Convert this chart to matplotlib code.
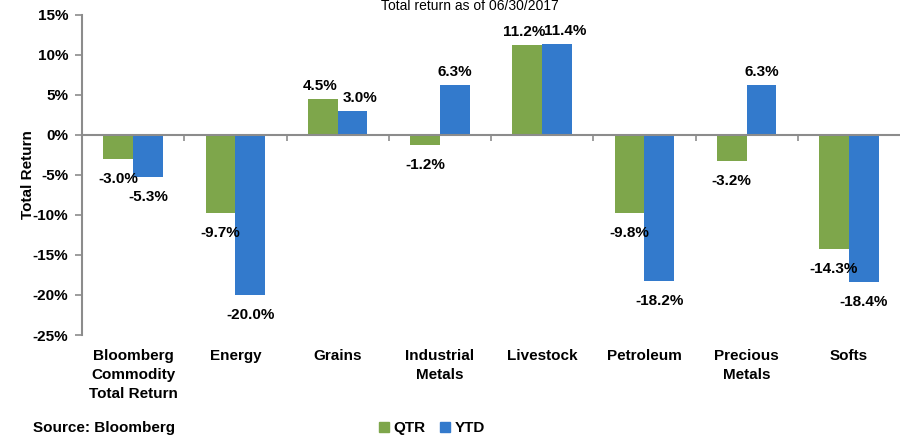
import matplotlib
matplotlib.use("Agg")
import matplotlib.pyplot as plt
from matplotlib.patches import Patch
import numpy as np

categories = ["Bloomberg\nCommodity\nTotal Return", "Energy", "Grains", "Industrial\nMetals",
              "Livestock", "Petroleum", "Precious\nMetals", "Softs"]
qtr = [-3.0, -9.7, 4.5, -1.2, 11.2, -9.8, -3.2, -14.3]
ytd = [-5.3, -20.0, 3.0, 6.3, 11.4, -18.2, 6.3, -18.4]
yticks = [15, 10, 5, 0, -5, -10, -15, -20, -25]

GREEN = "#7EA64B"
BLUE = "#337ACC"
GRAY = "#8C8C8C"
FONT = ["Liberation Sans", "DejaVu Sans"]
plt.rcParams["font.family"] = FONT
plt.rcParams["font.weight"] = "bold"
plt.rcParams["font.size"] = 11

fig = plt.figure(figsize=(9, 4.4), dpi=100)
ax = fig.add_axes([82 / 900, 1 - 335 / 440, 1 - 82 / 900, (335 - 15) / 440])

x = np.arange(len(categories))
w = 0.29
b1 = ax.bar(x - w / 2, qtr, w, color=GREEN, zorder=2)
b2 = ax.bar(x + w / 2, ytd, w, color=BLUE, zorder=2)

for k, (bars, vals) in enumerate(((b1, qtr), (b2, ytd))):
    other = ytd if k == 0 else qtr
    for r, v, o in zip(bars, vals, other):
        cx = r.get_x() + r.get_width() / 2
        dy = -20 if v < 0 else 13
        dx = 0
        if v > 0 and o > 0:
            dx = -3 if k == 0 else 8
        ax.annotate(f"{v:.1f}%", (cx, v), xytext=(dx, dy), textcoords="offset pixels",
                    ha="center", va="center", fontsize=11, fontweight="bold", color="black")

ax.set_xlim(-0.5, len(categories) - 0.5)
ax.set_ylim(-25, 15)
ax.set_yticks(yticks)
ax.set_yticklabels([f"{t}%" for t in yticks])
ax.tick_params(axis="y", direction="out", length=5, color=GRAY, width=1.2, pad=5,
               labelsize=11)

ax.set_xticks(x)
ax.set_xticklabels(categories)
ax.set_xticks(x[:-1] + 0.5, minor=True)
ax.tick_params(axis="x", which="major", length=0, pad=10, labelsize=11)
ax.tick_params(axis="x", which="minor", bottom=False, top=True, direction="in",
               length=4, color=GRAY, width=1.2)

for s in ("right", "bottom"):
    ax.spines[s].set_visible(False)
ax.spines["top"].set_position(("data", 0))
ax.spines["top"].set_color(GRAY)
ax.spines["top"].set_linewidth(1.5)
ax.spines["top"].set_zorder(3)
ax.spines["left"].set_color(GRAY)
ax.spines["left"].set_linewidth(1.5)

ax.set_ylabel("Total Return", fontsize=11, fontweight="bold")
ax.yaxis.set_label_coords(-(82 - 35) / 818, 0.5)

fig.text(470 / 900, 1 - 6 / 440, "Total return as of 06/30/2017", ha="center", va="center",
         fontsize=10, fontweight="normal")
fig.text(33 / 900, 12 / 440, "Source: Bloomberg", ha="left", va="center",
         fontsize=11, fontweight="bold")

handles = [Patch(color=GREEN, label="QTR"), Patch(color=BLUE, label="YTD")]
fig.legend(handles=handles, loc="center", bbox_to_anchor=(432 / 900, 12 / 440), ncol=2,
           frameon=False, handlelength=0.65, handleheight=0.65, handletextpad=0.3,
           columnspacing=0.9, prop={"size": 11, "weight": "bold", "family": FONT})

fig.canvas.draw()
for tick in ax.xaxis.get_major_ticks():
    tick.label1.set_linespacing(1.45)

fig.savefig("out.png", dpi=100)
